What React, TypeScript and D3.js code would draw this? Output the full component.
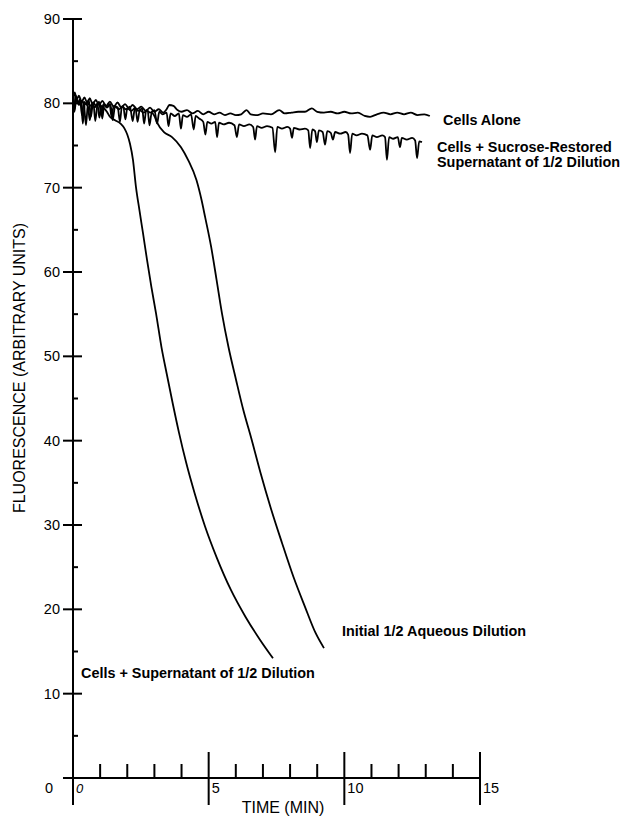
import * as d3 from 'd3';

const WIDTH = 628;
const HEIGHT = 818;

// plot frame
const X0 = 73;
const X15 = 480;
const Y0 = 778;
const Y90 = 19;

const yMajor = [0, 10, 20, 30, 40, 50, 60, 70, 80, 90];
const yMinor = [5, 15, 25, 35, 45, 55, 65, 75, 85];
const xMajor = [0, 5, 10, 15];
const xMinor = [1, 2, 3, 4, 6, 7, 8, 9, 11, 12, 13, 14];

// [time (min), fluorescence]
const cellsAlone: [number, number][] = [
  [0.0, 80.0], [0.06, 81.3], [0.14, 80.5], [0.22, 80.9], [0.32, 80.2], [0.42, 80.7],
  [0.52, 80.1], [0.62, 80.6], [0.72, 79.9], [0.84, 80.4], [0.96, 79.8], [1.08, 80.3],
  [1.22, 79.7], [1.36, 80.2], [1.5, 79.6], [1.64, 80.1], [1.78, 79.5], [1.92, 79.9],
  [2.06, 79.4], [2.2, 79.8], [2.36, 79.3], [2.52, 79.6], [2.68, 79.1], [2.84, 79.5],
  [3.0, 79.0], [3.16, 79.3], [3.32, 78.9], [3.45, 79.3], [3.55, 79.8], [3.7, 79.7],
  [3.85, 79.2], [4.0, 79.0], [4.2, 79.2], [4.4, 78.8], [4.6, 79.1], [4.8, 78.7],
  [5.0, 79.0], [5.2, 78.7], [5.4, 78.9], [5.6, 78.6], [5.8, 78.8], [6.0, 78.6],
  [6.2, 78.7], [6.4, 79.2], [6.55, 78.7], [6.8, 78.6], [7.0, 78.8], [7.3, 78.7],
  [7.6, 79.2], [7.8, 78.8], [8.05, 78.9], [8.3, 79.0], [8.55, 79.0], [8.8, 79.4],
  [9.0, 79.0], [9.25, 78.9], [9.5, 79.0], [9.75, 78.8], [10.0, 79.0], [10.25, 78.8],
  [10.5, 78.9], [10.75, 78.5], [10.95, 78.4], [11.2, 78.7], [11.45, 78.9], [11.7, 78.7],
  [11.95, 78.9], [12.2, 78.7], [12.45, 78.9], [12.7, 78.6], [12.95, 78.7], [13.15, 78.5],
];

const sucroseRestored: [number, number][] = [
  [0.0, 80.4], [0.05, 79.2], [0.1, 80.6], [0.2, 80.0], [0.3, 80.3], [0.4, 79.9],
  [0.48, 77.4], [0.55, 80.0], [0.65, 79.7], [0.75, 80.1], [0.82, 77.9], [0.9, 79.8],
  [1.0, 80.0], [1.08, 78.2], [1.15, 79.9], [1.25, 79.6], [1.35, 79.9], [1.42, 78.4],
  [1.5, 79.7], [1.65, 79.5], [1.73, 77.8], [1.8, 79.6], [1.95, 79.3], [2.1, 79.6],
  [2.2, 77.9], [2.28, 79.4], [2.4, 79.1], [2.55, 79.4], [2.62, 77.6], [2.7, 79.2],
  [2.85, 78.9], [3.0, 79.2], [3.1, 77.6], [3.18, 79.0], [3.3, 78.7], [3.45, 78.9],
  [3.52, 77.3], [3.6, 78.8], [3.75, 78.5], [3.9, 78.8], [3.98, 77.0], [4.05, 78.6],
  [4.2, 78.4], [4.35, 78.7], [4.45, 76.9], [4.52, 78.5], [4.65, 78.2], [4.8, 77.8],
  [4.88, 76.3], [4.95, 77.8], [5.1, 77.6], [5.24, 77.8], [5.31, 76.0], [5.38, 77.7],
  [5.55, 77.5], [5.75, 77.7], [5.95, 77.4], [6.04, 76.0], [6.12, 77.5], [6.3, 77.3],
  [6.5, 77.5], [6.64, 77.2], [6.71, 75.7], [6.78, 77.3], [6.95, 77.1], [7.15, 77.3],
  [7.35, 77.1], [7.45, 74.2], [7.53, 77.2], [7.7, 77.0], [7.9, 77.2], [8.0, 77.0],
  [8.07, 75.9], [8.14, 77.1], [8.35, 76.9], [8.55, 77.0], [8.67, 76.8], [8.74, 74.7],
  [8.82, 76.9], [8.92, 76.7], [8.99, 75.4], [9.06, 76.8], [9.2, 76.6], [9.29, 75.1],
  [9.37, 76.7], [9.5, 76.5], [9.58, 75.7], [9.66, 76.6], [9.85, 76.4], [10.05, 76.6],
  [10.14, 76.3], [10.21, 74.1], [10.29, 76.4], [10.45, 76.2], [10.65, 76.4], [10.85, 76.2],
  [10.95, 74.5], [11.03, 76.2], [11.2, 76.0], [11.4, 76.2], [11.5, 76.0], [11.57, 73.3],
  [11.65, 76.0], [11.8, 75.8], [11.97, 76.0], [12.05, 74.8], [12.12, 75.9], [12.3, 75.7],
  [12.5, 75.9], [12.61, 75.6], [12.68, 73.5], [12.76, 75.5], [12.86, 75.4],
];

const supernatant: [number, number][] = [
  [0.0, 80.8], [0.05, 79.0], [0.12, 80.4], [0.22, 79.8], [0.3, 80.3], [0.36, 77.6],
  [0.44, 80.0], [0.55, 79.6], [0.62, 78.0], [0.7, 79.9], [0.8, 79.5], [0.9, 80.0],
  [0.97, 78.3], [1.05, 79.7], [1.15, 79.4], [1.25, 79.0], [1.36, 78.4], [1.55, 78.0],
  [1.75, 77.6], [1.9, 77.0], [2.0, 76.3], [2.1, 75.2], [2.21, 73.3], [2.32, 70.1],
  [2.45, 67.3], [2.58, 64.6], [2.73, 61.4], [2.89, 58.2], [3.06, 55.1], [3.26, 51.1],
  [3.45, 48.0], [3.67, 44.5], [3.91, 40.9], [4.17, 37.4], [4.48, 33.8], [4.87, 29.8],
  [5.29, 26.2], [5.82, 22.3], [6.36, 19.1], [6.89, 16.4], [7.37, 14.2],
];

const aqueous: [number, number][] = [
  [0.0, 80.3], [0.04, 79.4], [0.1, 80.9], [0.18, 80.1], [0.26, 80.5], [0.33, 78.6],
  [0.4, 80.2], [0.5, 79.9], [0.58, 80.4], [0.66, 78.4], [0.74, 80.1], [0.86, 79.7],
  [0.96, 80.2], [1.04, 78.6], [1.12, 79.9], [1.25, 79.5], [1.38, 79.9], [1.46, 78.0],
  [1.55, 79.6], [1.7, 79.3], [1.85, 79.7], [1.93, 78.1], [2.0, 79.4], [2.15, 79.1],
  [2.3, 79.5], [2.38, 77.8], [2.46, 79.2], [2.6, 78.9], [2.75, 79.2], [2.82, 77.4],
  [2.9, 78.9], [3.0, 78.5], [3.1, 77.7], [3.35, 76.6], [3.65, 76.0], [3.98, 74.8],
  [4.24, 73.3], [4.55, 70.9], [4.74, 68.5], [4.87, 66.5], [5.09, 63.0], [5.29, 59.1],
  [5.49, 55.1], [5.73, 51.1], [6.01, 47.2], [6.28, 43.6], [6.56, 40.4], [6.91, 36.2],
  [7.28, 32.1], [7.7, 27.9], [8.13, 23.8], [8.55, 20.3], [8.94, 17.2], [9.25, 15.4],
];

const FONT = '"Liberation Sans", Arial, Helvetica, sans-serif';

export default function App() {
  const x = d3.scaleLinear().domain([0, 15]).range([X0, X15]);
  const y = d3.scaleLinear().domain([0, 90]).range([Y0, Y90]);

  const line = d3.line<[number, number]>()
    .x((d) => x(d[0]))
    .y((d) => y(d[1]))
    .curve(d3.curveMonotoneX);

  const series = [cellsAlone, sucroseRestored, supernatant, aqueous];

  return (
    <svg
      width={WIDTH}
      height={HEIGHT}
      viewBox={`0 0 ${WIDTH} ${HEIGHT}`}
      style={{ position: 'absolute', left: 0, top: 0, background: '#fff' }}
      fontFamily={FONT}
    >
      {/* axes */}
      <g stroke="#000" strokeWidth={2}>
        <line x1={x(0)} x2={x(0)} y1={y(90)} y2={y(0) + 27} />
        <line x1={x(0) - 9} x2={x(15)} y1={y(0)} y2={y(0)} />
        {yMajor.map((v) => (
          <line key={`ym${v}`} x1={x(0) - 10} x2={x(0) + 9} y1={y(v)} y2={y(v)} />
        ))}
        {yMinor.map((v) => (
          <line key={`yn${v}`} x1={x(0)} x2={x(0) + 5} y1={y(v)} y2={y(v)} />
        ))}
        {xMajor.map((v) => (
          <line key={`xm${v}`} x1={x(v)} x2={x(v)} y1={y(0) - 26} y2={y(0) + 27} />
        ))}
        {xMinor.map((v) => (
          <line key={`xn${v}`} x1={x(v)} x2={x(v)} y1={y(0) - 14} y2={y(0)} />
        ))}
      </g>

      {/* tick labels */}
      <g fontSize={14.5} fill="#000">
        {yMajor.filter((v) => v > 0).map((v) => (
          <text key={`yl${v}`} x={60} y={y(v)} dy="0.35em" textAnchor="end">{v}</text>
        ))}
        <text x={53} y={793} textAnchor="end">0</text>
        {xMajor.map((v) => (
          <text
            key={`xl${v}`}
            x={x(v) + 3}
            y={793}
            fontStyle={v === 0 ? 'italic' : 'normal'}
            fontSize={v === 0 ? 13 : 14.5}
          >
            {v}
          </text>
        ))}
      </g>

      {/* axis titles */}
      <text x={283} y={813} fontSize={16} textAnchor="middle">TIME (MIN)</text>
      <text
        transform="translate(25,368) rotate(-90)"
        fontSize={16}
        textAnchor="middle"
      >
        FLUORESCENCE (ARBITRARY UNITS)
      </text>

      {/* traces */}
      <g fill="none" stroke="#000" strokeWidth={1.8} strokeLinejoin="round">
        {series.map((s, i) => (
          <path key={i} d={line(s) || ''} />
        ))}
      </g>

      {/* annotations */}
      <g fontSize={14.4} fontWeight="bold" fill="#000">
        <text x={443} y={125}>Cells Alone</text>
        <text x={437} y={152}>Cells + Sucrose-Restored</text>
        <text x={437} y={167}>Supernatant of 1/2 Dilution</text>
        <text x={342} y={636}>Initial 1/2 Aqueous Dilution</text>
        <text x={81} y={678}>Cells + Supernatant of 1/2 Dilution</text>
      </g>
    </svg>
  );
}
